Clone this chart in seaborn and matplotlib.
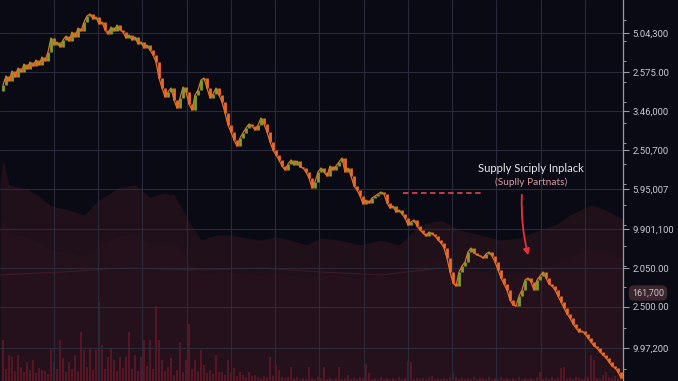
import numpy as np
import pandas as pd
import matplotlib
matplotlib.use("Agg")
import matplotlib.pyplot as plt
from matplotlib.ticker import FixedLocator, AutoMinorLocator
import seaborn as sns

# ---------------- data ----------------
close = [296, 305, 300, 310, 304, 313, 309, 317, 312, 319, 315, 321, 316, 324, 320, 329, 343, 336, 339, 334,
         341, 345, 340, 349, 344, 353, 350, 359, 365, 367, 362, 364, 357, 359, 351, 347, 354, 350, 356, 351,
         349, 343, 346, 341, 344, 337, 339, 333, 336, 331, 326, 319, 303, 293, 284, 289, 293, 281, 273, 283,
         294, 289, 277, 271, 286, 291, 301, 303, 293, 283, 287, 293, 286, 279, 268, 256, 249, 241, 235, 243,
         248, 253, 257, 255, 251, 256, 263, 257, 249, 239, 231, 226, 221, 215, 211, 217, 221, 216, 220, 214,
         213, 209, 203, 193, 199, 209, 213, 209, 205, 215, 211, 215, 219, 223, 209, 213, 205, 195, 191, 185,
         177, 181, 178, 183, 185, 187, 189, 187, 178, 173, 175, 169, 171, 167, 163, 156, 159, 161, 155, 151,
         148, 145, 149, 147, 145, 141, 138, 133, 123, 109, 98, 95, 109, 115, 119, 129, 133, 128, 126, 125,
         123, 127, 129, 125, 119, 111, 103, 97, 91, 81, 76, 75, 85, 91, 101, 103, 99, 91, 101, 105,
         109, 103, 97, 95, 91, 85, 79, 73, 67, 63, 57, 53, 49, 50, 47, 43, 39, 35, 33, 29,
         26, 23, 19, 15, 13, 9, 3]

volume = [41, 12, 26, 24, 10, 26, 14, 9, 19, 11,
          21, 8, 13, 11, 10, 7, 33, 19, 12, 41,
          23, 9, 19, 12, 26, 10, 49, 31, 14, 33,
          11, 31, 79, 36, 12, 24, 33, 21, 10, 24,
          13, 24, 49, 12, 26, 10, 24, 41, 15, 41,
          12, 75, 41, 21, 10, 14, 23, 6, 11, 39,
          9, 21, 57, 12, 21, 10, 31, 16, 8, 11,
          7, 26, 9, 9, 6, 21, 8, 13, 5, 9,
          6, 4, 9, 5, 6, 4, 3, 5, 4, 24,
          5, 16, 11, 4, 3, 4, 14, 3, 4, 2,
          3, 2, 14, 3, 2, 4, 3, 14, 2, 3,
          2, 3, 14, 2, 3, 6, 2, 3, 2, 4,
          3, 17, 8, 2, 3, 2, 4, 2, 3, 2,
          3, 2, 4, 2, 3, 19, 19, 2, 3, 2,
          3, 2, 4, 5, 2, 3, 2, 3, 2, 4,
          8, 4, 2, 3, 2, 3, 2, 4, 2, 3,
          3, 2, 4, 2, 3, 2, 4, 2, 3, 2,
          3, 2, 4, 2, 3, 2, 3, 2, 4, 9,
          2, 3, 2, 4, 2, 3, 13, 14, 2, 3,
          2, 4, 3, 2, 3, 4, 26, 21, 3, 2,
          6, 9, 4, 3, 5, 3, 4]

# background "supply" mountain (candle-index positions, level)
area_x = [-1, 0, 2, 7, 12, 16, 22, 27, 32, 39, 44, 49, 54, 57, 59, 62, 66, 71, 76, 81,
          86, 91, 96, 101, 106, 112, 119, 126, 132, 139, 146, 152, 159, 166, 172, 179, 184, 189,
          196, 201, 207]
area_top = [198, 221, 196, 193, 185, 175, 171, 166, 181, 194, 196, 184, 188, 186, 176, 159, 141,
            146, 146, 143, 141, 144, 141, 136, 143, 141, 136, 141, 136, 156, 161, 151, 146, 141,
            143, 151, 156, 166, 176, 171, 161]

ma_x = [-1, 20, 40, 66, 86, 106, 126, 146]
ma_val = [106, 109, 113, 111, 113, 109, 106, 113]

ytick_vals = [348, 309, 270, 231, 192, 152, 113, 74, 33]
ytick_labels = ["5.04,300", "2.575.00", "3.46,000", "2.50,700", "5.95,007",
                "9.901,100", "2.050.00", "2.500.00", "9.97,200"]
price_tag = "161,700"
title_main = "Supply Sıciply Inplack"
title_sub = "(Suplly Partnats)"
resistance_level = 188
resistance_span = (133.3, 159.7)

# ---------------- figure ----------------
BG = "#0a0a14"
sns.set_theme(style="dark")
plt.rcParams["font.family"] = ["Roboto", "DejaVu Sans"]

fig = plt.figure(figsize=(6.78, 3.81), dpi=100, facecolor=BG)
ax = fig.add_axes([0, 0, 623 / 678, 1])
ax.set_facecolor(BG)

idx = np.arange(len(close))
df = pd.DataFrame({"idx": idx, "close": close, "volume": volume})
df["open"] = [close[0] - 6] + close[:-1]

# lower reddish region
ax.fill_between(area_x, 0, area_top, color="#3a1822", alpha=0.45, lw=0, zorder=0.6)
ax.fill_between(area_x, 0, [v * 0.75 for v in area_top], color="#3a1822", alpha=0.2, lw=0, zorder=0.7)
ax.plot(ma_x, ma_val, color="#5a2232", lw=0.8, alpha=0.5, zorder=1)

# volume bars
ax.bar(df["idx"], df["volume"], width=0.5, bottom=0, color="#7a1a2c", alpha=0.6, lw=0, zorder=1.2)

# close line through seaborn
sns.lineplot(data=df, x="idx", y="close", color="#e8702a", lw=0.9, ax=ax, zorder=3)

# candle bodies
up = df["close"] > df["open"]
ax.vlines(df.loc[~up, "idx"], df.loc[~up, "open"], df.loc[~up, "close"], color="#ec6a26", lw=2.0, zorder=4)
ax.vlines(df.loc[up, "idx"], df.loc[up, "open"], df.loc[up, "close"], color="#849c2c", lw=2.0, zorder=4)

# resistance dashed line
ax.hlines(resistance_level, *resistance_span, colors="#d8404a", linestyles=(0, (3, 2)), lw=1.3, zorder=5)

# annotation
ax.text(176, 212, title_main, color="#e8e8ee", fontsize=8.1, ha="center", va="center",
        family=["Lato", "DejaVu Sans"], zorder=6)
ax.text(176, 199, title_sub, color="#d89aa6", fontsize=7.3, ha="center", va="center",
        family=["Lato", "DejaVu Sans"], zorder=6)
ax.annotate("", xy=(175.3, 123), xytext=(173, 189),
            arrowprops=dict(arrowstyle="-|>", color="#e8303a", lw=1.3,
                            connectionstyle="arc3,rad=0.08", mutation_scale=9), zorder=6)

# axes / grid
ax.set_xlim(-1, 206.67)
ax.set_ylim(0, 381)
ax.xaxis.set_major_locator(FixedLocator(np.arange(17, 200, 14.75)))
ax.tick_params(axis="x", length=0, labelbottom=False)
ax.set_xlabel("")
ax.set_ylabel("")
ax.yaxis.tick_right()
ax.set_yticks(ytick_vals, ytick_labels)
ax.yaxis.set_minor_locator(AutoMinorLocator(2))
ax.tick_params(axis="y", which="major", right=True, length=4, width=0.8, color="#9a9aa6",
               labelcolor="#c9c9d0", labelsize=6.8, pad=3)
ax.tick_params(axis="y", which="minor", right=True, length=2.5, width=0.7, color="#9a9aa6")
ax.grid(True, which="major", color="#2a2a3a", lw=0.8)
ax.set_axisbelow("line")
for s in ["top", "left", "bottom"]:
    ax.spines[s].set_visible(False)
ax.spines["right"].set_visible(True)
ax.spines["right"].set_color("#9a9aa6")
ax.spines["right"].set_linewidth(0.9)

# price tag
fig.text(648 / 678, 1 - 293 / 381, price_tag, color="#d0c0c6", fontsize=6.5, ha="center", va="center",
         bbox=dict(boxstyle="round,pad=0.35,rounding_size=0.6", fc="#3a262d", ec="none"))

fig.savefig("out.png", dpi=100, facecolor=BG)
